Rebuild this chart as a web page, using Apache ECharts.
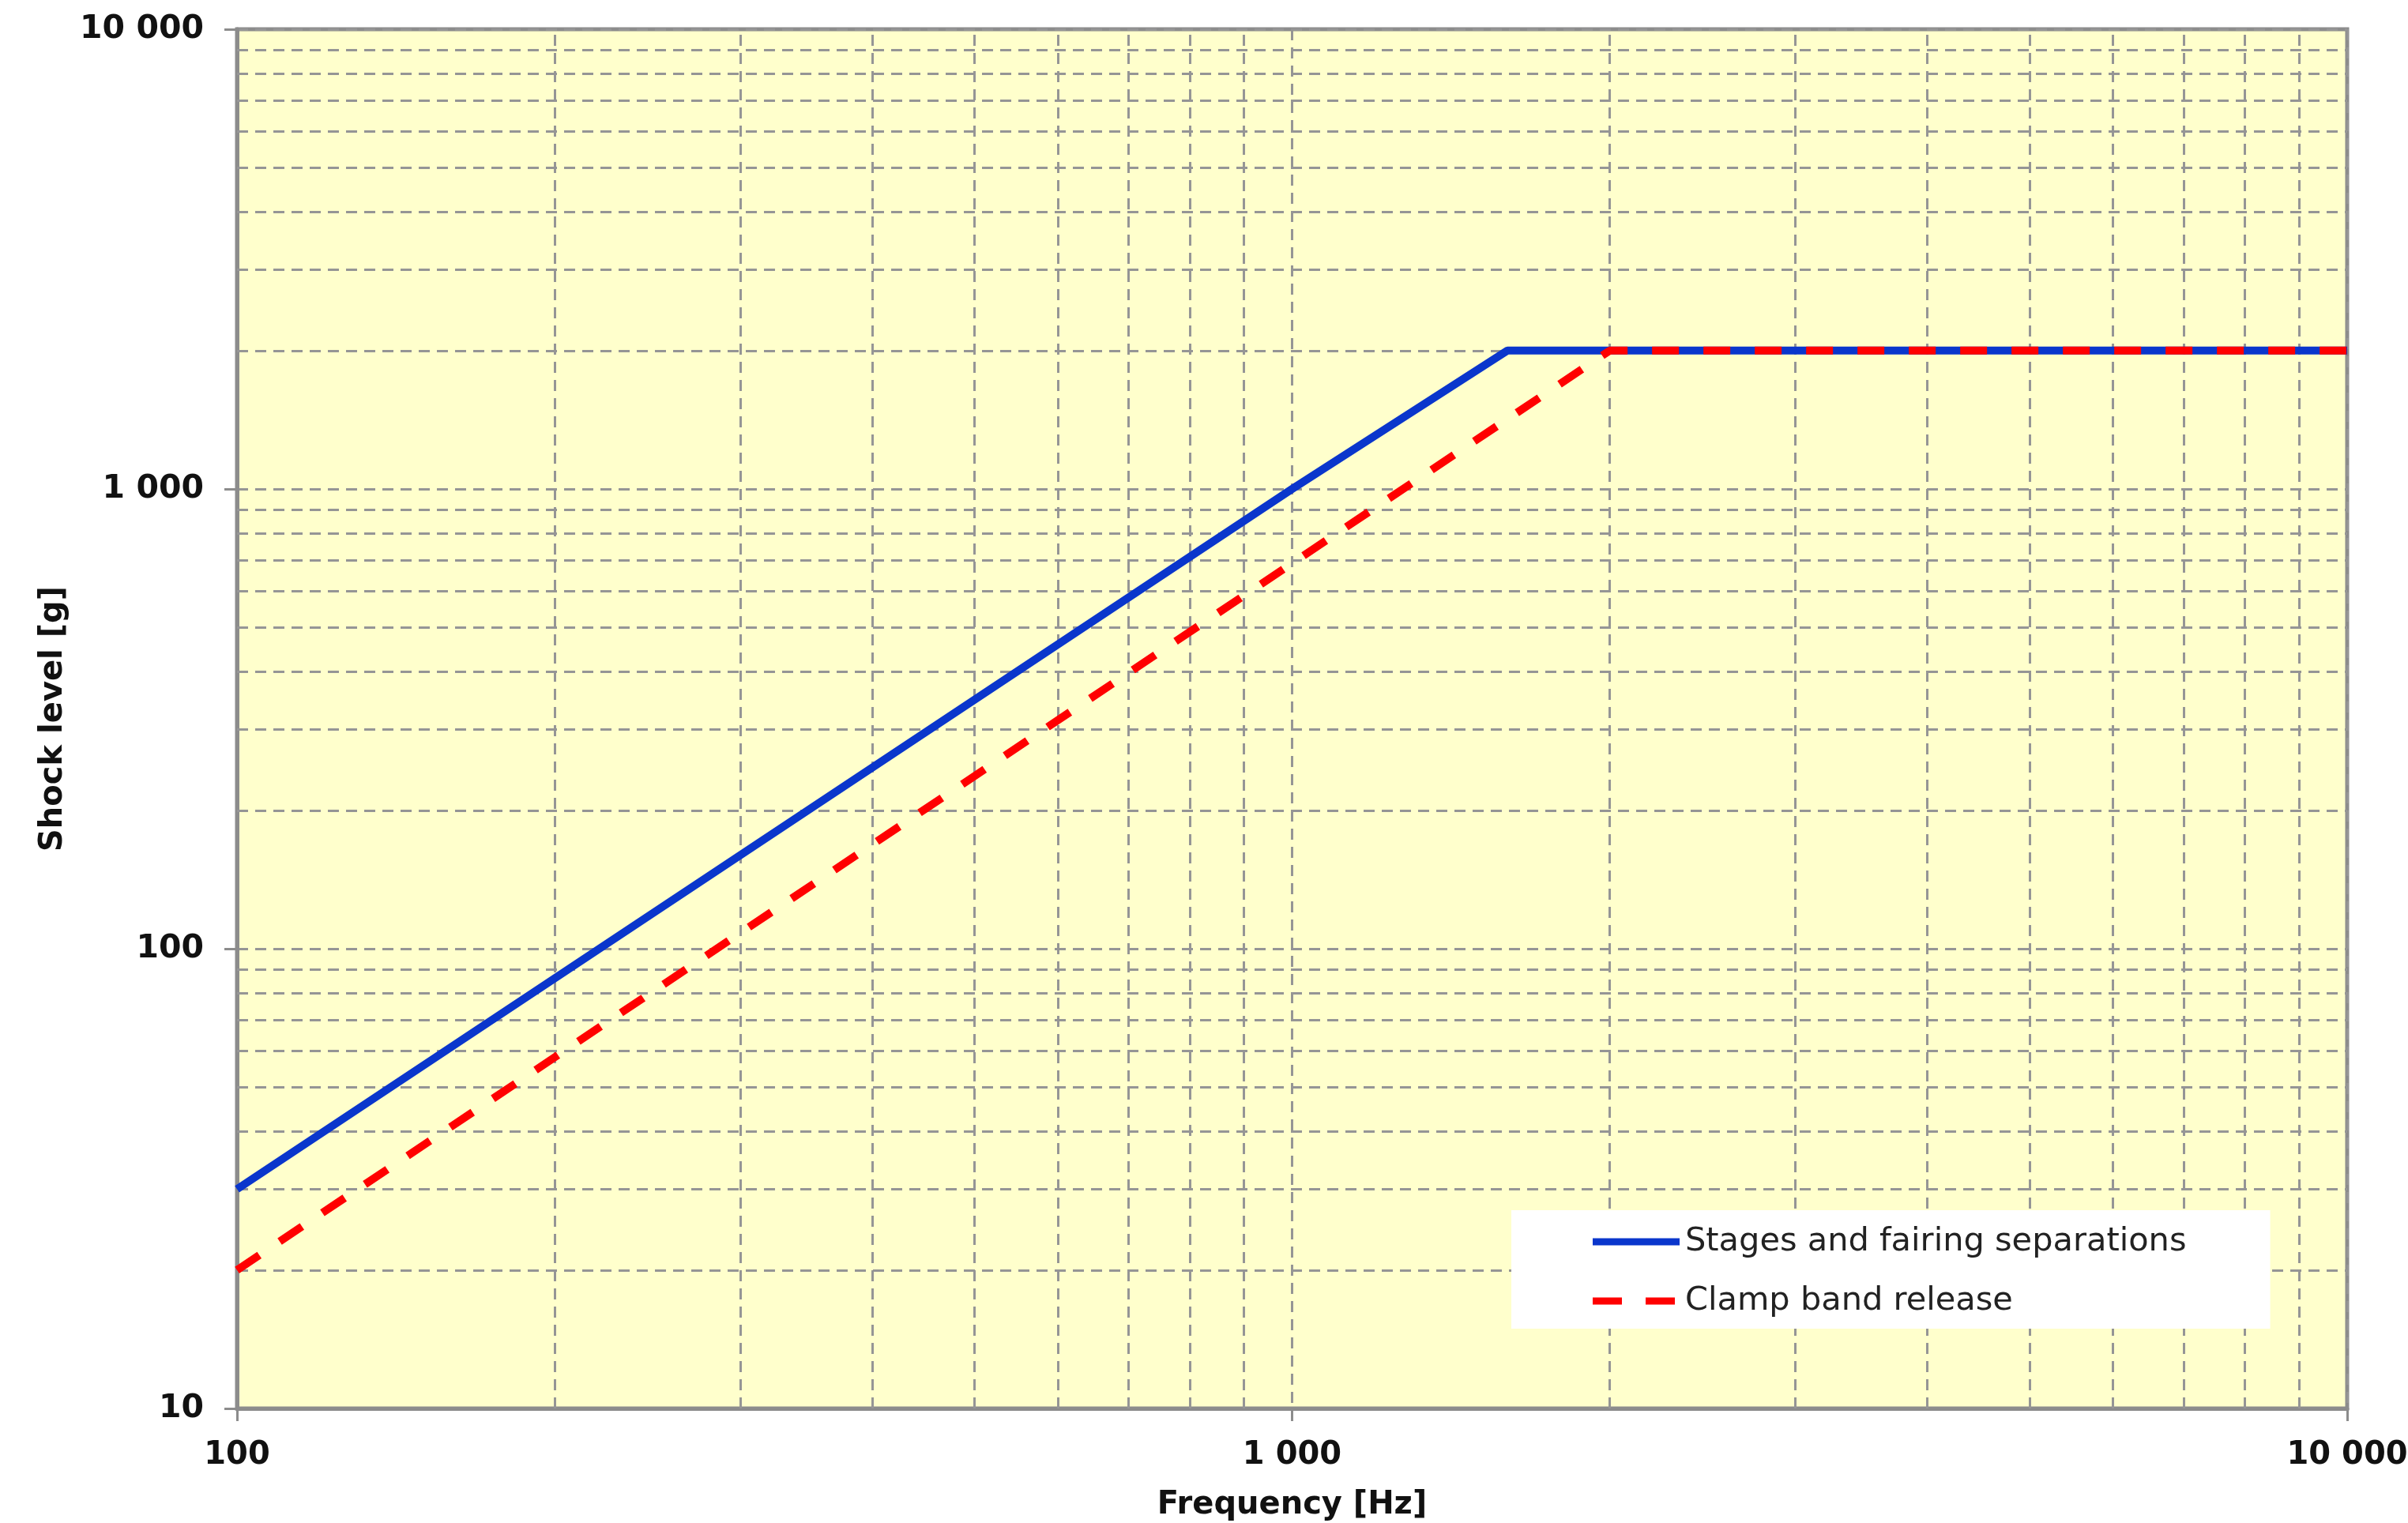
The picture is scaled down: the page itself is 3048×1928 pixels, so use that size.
<!DOCTYPE html>
<html>
<head>
<meta charset="utf-8">
<script src="https://cdn.jsdelivr.net/npm/echarts@6/dist/echarts.min.js"></script>
<style>
html,body{margin:0;padding:0;background:#fff;}
#c{width:3048px;height:1928px;}
</style>
</head>
<body>
<div id="c"></div>
<script>
const seriesNames = ['Stages and fairing separations', 'Clamp band release'];
const freqStages = [100, 1000, 1600, 10000];
const levelStages = [30, 1000, 2000, 2000];
const freqClamp = [100, 2000, 10000];
const levelClamp = [20, 2000, 2000];
const xMinorTicks = [200, 300, 400, 500, 600, 700, 800, 900, 2000, 3000, 4000, 5000, 6000, 7000, 8000, 9000];
const yMinorTicks = [20, 30, 40, 50, 60, 70, 80, 90, 200, 300, 400, 500, 600, 700, 800, 900, 2000, 3000, 4000, 5000, 6000, 7000, 8000, 9000];

const fmt = v => String(Math.round(v)).replace(/\B(?=(\d{3})+(?!\d))/g, ' ');
const gridLine = {color: '#959595', width: 3, type: [14, 9]};
const labelFont = {fontFamily: 'DejaVu Sans', fontWeight: 'bold', fontSize: 40, color: '#111'};
const blue = '#0a36cc', red = '#ff0000';

const chart = echarts.init(document.getElementById('c'));
chart.setOption({
  animation: false,
  backgroundColor: '#ffffff',
  grid: {left: 300, right: 77, top: 37, bottom: 145, show: true, backgroundColor: '#ffffcc', borderColor: '#8c8c8c', borderWidth: 5, containLabel: false, outerBoundsMode: 'none'},
  xAxis: {
    type: 'log', logBase: 10, min: 100, max: 10000,
    name: 'Frequency [Hz]', nameLocation: 'middle', nameGap: 103,
    nameTextStyle: labelFont,
    axisLine: {lineStyle: {color: '#8c8c8c', width: 5}},
    axisTick: {show: true, length: 16, lineStyle: {color: '#8c8c8c', width: 3}},
    axisLabel: Object.assign({margin: 40, formatter: fmt}, labelFont),
    splitLine: {show: true, lineStyle: gridLine}
  },
  yAxis: {
    type: 'log', logBase: 10, min: 10, max: 10000,
    name: 'Shock level [g]', nameLocation: 'middle', nameGap: 212, nameRotate: 90,
    nameTextStyle: labelFont,
    axisLine: {lineStyle: {color: '#8c8c8c', width: 5}},
    axisTick: {show: true, length: 16, lineStyle: {color: '#8c8c8c', width: 3}},
    axisLabel: Object.assign({margin: 42, formatter: fmt}, labelFont, {fontSize: 41}),
    splitLine: {show: true, lineStyle: gridLine}
  },
  legend: {
    data: [
      {name: seriesNames[0], icon: 'path://M0,0H110V9H0Z'},
      {name: seriesNames[1], icon: 'path://M0,0H37V9H0Z M67,0H104V9H67Z M104,0H110V0.01H104Z'}
    ],
    orient: 'vertical',
    left: 1913, top: 1532,
    padding: [19, 106, 14, 103],
    backgroundColor: '#ffffff',
    itemWidth: 110, itemHeight: 9, itemGap: 33,
    textStyle: {fontFamily: 'DejaVu Sans', fontSize: 41.5, color: '#222', padding: [0, 0, 0, 2]}
  },
  series: [
    {
      name: 'minor-grid', type: 'line', data: [], silent: true, z: 1,
      markLine: {
        z: 1, silent: true, symbol: 'none', label: {show: false},
        lineStyle: gridLine,
        data: xMinorTicks.map(v => ({xAxis: v})).concat(yMinorTicks.map(v => ({yAxis: v})))
      }
    },
    {
      name: seriesNames[0], type: 'line', showSymbol: false, symbol: 'none', z: 3,
      data: freqStages.map((f, i) => [f, levelStages[i]]),
      lineStyle: {color: blue, width: 10},
      itemStyle: {color: blue}
    },
    {
      name: seriesNames[1], type: 'line', showSymbol: false, symbol: 'none', z: 10,
      data: freqClamp.map((f, i) => [f, levelClamp[i]]),
      lineStyle: {color: red, width: 10, type: [34, 31]},
      itemStyle: {color: red}
    }
  ]
});
</script>
</body>
</html>
